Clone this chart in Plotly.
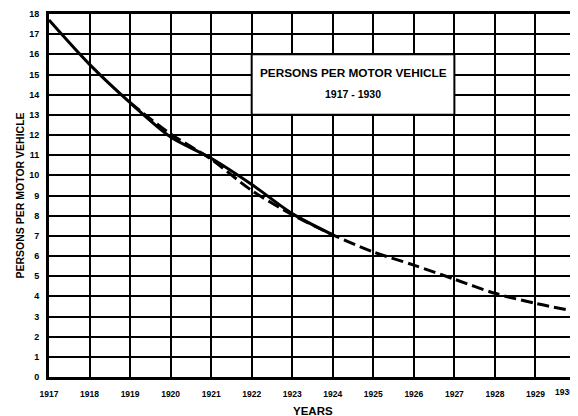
import plotly.graph_objects as go

# Data
years_actual = [1917, 1918, 1919, 1920, 1921, 1922, 1923, 1924]
persons_actual = [17.7, 15.5, 13.6, 11.9, 10.85, 9.55, 8.1, 7.05]

years_trend = [1919, 1920, 1921, 1922, 1923, 1924, 1925, 1926, 1927, 1928, 1929, 1930]
persons_trend = [13.6, 12.05, 10.8, 9.25, 8.05, 7.05, 6.2, 5.55, 4.85, 4.15, 3.65, 3.25]

x_ticks = list(range(1917, 1930))
x_tick_labels = [str(y) for y in x_ticks]
last_year = 1930
y_ticks = list(range(0, 19))
y_tick_labels = [str(v) for v in y_ticks]

FONT = "Liberation Sans"

fig = go.Figure()
fig.add_trace(go.Scatter(
    x=years_trend, y=persons_trend, mode="lines",
    line=dict(color="black", width=3, dash="12px,5px", shape="spline", smoothing=0.8),
    showlegend=False, hoverinfo="skip",
))
fig.add_trace(go.Scatter(
    x=years_actual, y=persons_actual, mode="lines",
    line=dict(color="black", width=3, shape="spline", smoothing=0.8),
    showlegend=False, hoverinfo="skip",
))

# Title box
fig.add_shape(type="rect", xref="x", yref="y", x0=1922, x1=1927, y0=13, y1=16,
              fillcolor="white", line=dict(color="black", width=2), layer="above")
fig.add_annotation(x=1924.5, y=15.05, xref="x", yref="y", showarrow=False,
                   text="<b>PERSONS PER MOTOR VEHICLE</b>",
                   font=dict(family=FONT, size=11.8, color="black"))
fig.add_annotation(x=1924.5, y=14.05, xref="x", yref="y", showarrow=False,
                   text="<b>1917 - 1930</b>",
                   font=dict(family=FONT, size=10.5, color="black"))

# Axis titles
fig.add_annotation(x=0, y=0.5, xref="paper", yref="paper", xshift=-30,
                   xanchor="center", yanchor="middle",
                   showarrow=False, textangle=-90,
                   text="<b>PERSONS PER MOTOR VEHICLE</b>",
                   font=dict(family=FONT, size=10.5, color="black"))
fig.add_annotation(x=0.5, y=0, xref="paper", yref="paper", yshift=-34,
                   showarrow=False, xanchor="center", yanchor="middle",
                   text="<b>YEARS</b>",
                   font=dict(family=FONT, size=11.5, color="black"))
# last year label at the right edge
fig.add_annotation(x=last_year, y=0, xref="x", yref="paper", yshift=-15,
                   showarrow=False, xanchor="right", yanchor="middle",
                   text="<b>%d</b>" % last_year,
                   font=dict(family=FONT, size=8.5, color="black"))

fig.update_xaxes(
    range=[1917, 1930], tickvals=x_ticks, ticktext=x_tick_labels,
    showgrid=True, gridcolor="black", gridwidth=2,
    showline=True, linecolor="black", linewidth=3, mirror=True,
    ticks="", ticklabelstandoff=7, automargin=False,
    tickfont=dict(family=FONT, size=8.5, color="black", weight="bold"),
    zeroline=False,
)
fig.update_yaxes(
    range=[0, 18], tickvals=y_ticks, ticktext=y_tick_labels,
    showgrid=True, gridcolor="black", gridwidth=2,
    showline=True, linecolor="black", linewidth=3, mirror=True,
    ticks="", ticklabelstandoff=5, automargin=False,
    tickfont=dict(family=FONT, size=9, color="black", weight="bold"),
    zeroline=False,
)

# page body has an 8px default margin, so the figure is sized to end at the window edge
fig.update_layout(
    width=570, height=408,
    margin=dict(l=41, r=2, t=6, b=39),
    paper_bgcolor="white", plot_bgcolor="white",
    font=dict(family=FONT, color="black"),
)

fig.write_html("out.html")
